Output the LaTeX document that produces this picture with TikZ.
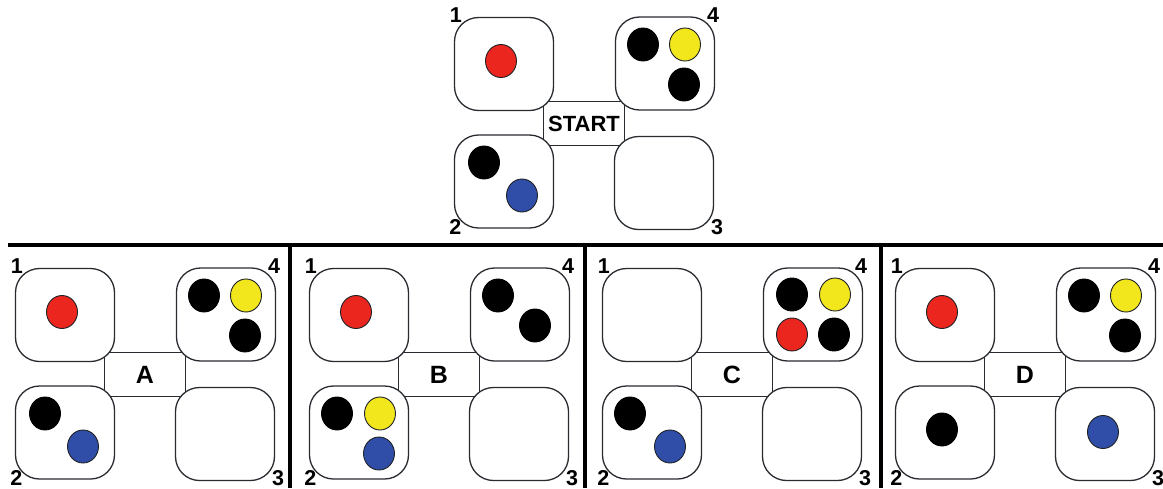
\documentclass[tikz,border=0pt]{standalone}
\usepackage{fontspec}
\setmainfont{Liberation Sans}
\usetikzlibrary{shapes.geometric,calc}
\definecolor{dred}{RGB}{234,38,30}
\definecolor{dyel}{RGB}{242,230,28}
\definecolor{dblu}{RGB}{48,78,168}
\definecolor{edge}{RGB}{40,44,48}
\tikzset{
  well/.style={draw=edge,line width=1.3pt,rounded corners=24pt,fill=white,minimum width=99pt,minimum height=93pt,inner sep=0pt},
  hub/.style={draw=edge,line width=1.3pt,fill=white,minimum width=81pt,minimum height=44pt,inner sep=0pt,font=\fontsize{25}{25}\selectfont\bfseries},
  num/.style={inner sep=0pt,font=\fontsize{21.5}{21.5}\selectfont\bfseries},
  dot/.style={ellipse,draw=edge!80!black,line width=0.9pt,minimum width=31pt,minimum height=33pt,inner sep=0pt},
  blk/.style={dot,fill=black,draw=black},
  rd/.style={dot,fill=dred},
  yl/.style={dot,fill=dyel},
  bl/.style={dot,fill=dblu},
  frame/.style={line width=4pt,black},
}
\newcommand{\mypanel}[4]{%
  \begin{scope}[shift={(#2,#3)}]
    \node[hub] (#1c) at (145,374.5) {#4};
    \node[well] (#1w1) at (65,315) {};
    \node[well] (#1w4) at (226,314.5) {};
    \node[well] (#1w2) at (65,432.5) {};
    \node[well] (#1w3) at (225,434) {};
    \node[num] (#1n1) at ($(#1w1.north west)+(2,-1.5)$) {1};
    \node[num] (#1n4) at ($(#1w4.north east)+(-2,-1.5)$) {4};
    \node[num] (#1n2) at ($(#1w2.south west)+(1.5,-1.5)$) {2};
    \node[num] (#1n3) at ($(#1w3.south east)+(3,-3)$) {3};
  \end{scope}}
\begin{document}
\begin{tikzpicture}[x=1pt,y=-1pt]
\useasboundingbox (0,0) rectangle (1163,488);
\fill[white] (0,0) rectangle (1163,488);
% frame
\draw[frame] (8,245) -- (1163,245);
\draw[frame] (290,245) -- (290,488);
\draw[frame] (585,245) -- (585,488);
\draw[frame] (881,245) -- (881,488);
% START
\mypanel{s}{439}{-251}{\fontsize{22}{22}\selectfont START}
\node[rd]  (sd1) at ($(sw1)+(-3,-3)$) {};
\node[blk] (sd2) at ($(sw4)+(-22,-19)$) {};
\node[yl]  (sd3) at ($(sw4)+(20,-19)$) {};
\node[blk] (sd4) at ($(sw4)+(19,21)$) {};
\node[blk] (sd5) at ($(sw2)+(-20,-19)$) {};
\node[bl]  (sd6) at ($(sw2)+(18,14)$) {};
% A
\mypanel{a}{0}{0}{A}
\node[rd]  (ad1) at ($(aw1)+(-3,-3)$) {};
\node[blk] (ad2) at ($(aw4)+(-22,-19)$) {};
\node[yl]  (ad3) at ($(aw4)+(20,-19)$) {};
\node[blk] (ad4) at ($(aw4)+(19,21)$) {};
\node[blk] (ad5) at ($(aw2)+(-20,-19)$) {};
\node[bl]  (ad6) at ($(aw2)+(18,14)$) {};
% B
\mypanel{b}{294}{0}{B}
\node[rd]  (bd1) at ($(bw1)+(-3,-3)$) {};
\node[blk] (bd2) at ($(bw4)+(-22,-19)$) {};
\node[blk] (bd3) at ($(bw4)+(15,11)$) {};
\node[blk] (bd4) at ($(bw2)+(-22,-19)$) {};
\node[yl]  (bd5) at ($(bw2)+(21,-19)$) {};
\node[bl]  (bd6) at ($(bw2)+(20,21)$) {};
% C
\mypanel{c}{587}{0}{C}
\node[blk] (cd1) at ($(cw4)+(-21,-20)$) {};
\node[yl]  (cd2) at ($(cw4)+(22,-20)$) {};
\node[rd]  (cd3) at ($(cw4)+(-21,20)$) {};
\node[blk] (cd4) at ($(cw4)+(21,20)$) {};
\node[blk] (cd5) at ($(cw2)+(-22,-19)$) {};
\node[bl]  (cd6) at ($(cw2)+(18,14)$) {};
% D
\mypanel{d}{880}{0}{D}
\node[rd]  (dd1) at ($(dw1)+(-3,-3)$) {};
\node[blk] (dd2) at ($(dw4)+(-22,-19)$) {};
\node[yl]  (dd3) at ($(dw4)+(20,-19)$) {};
\node[blk] (dd4) at ($(dw4)+(19,21)$) {};
\node[blk] (dd5) at ($(dw2)+(-3,-3)$) {};
\node[bl]  (dd6) at ($(dw3)+(-2,-2)$) {};
\end{tikzpicture}
\end{document}
